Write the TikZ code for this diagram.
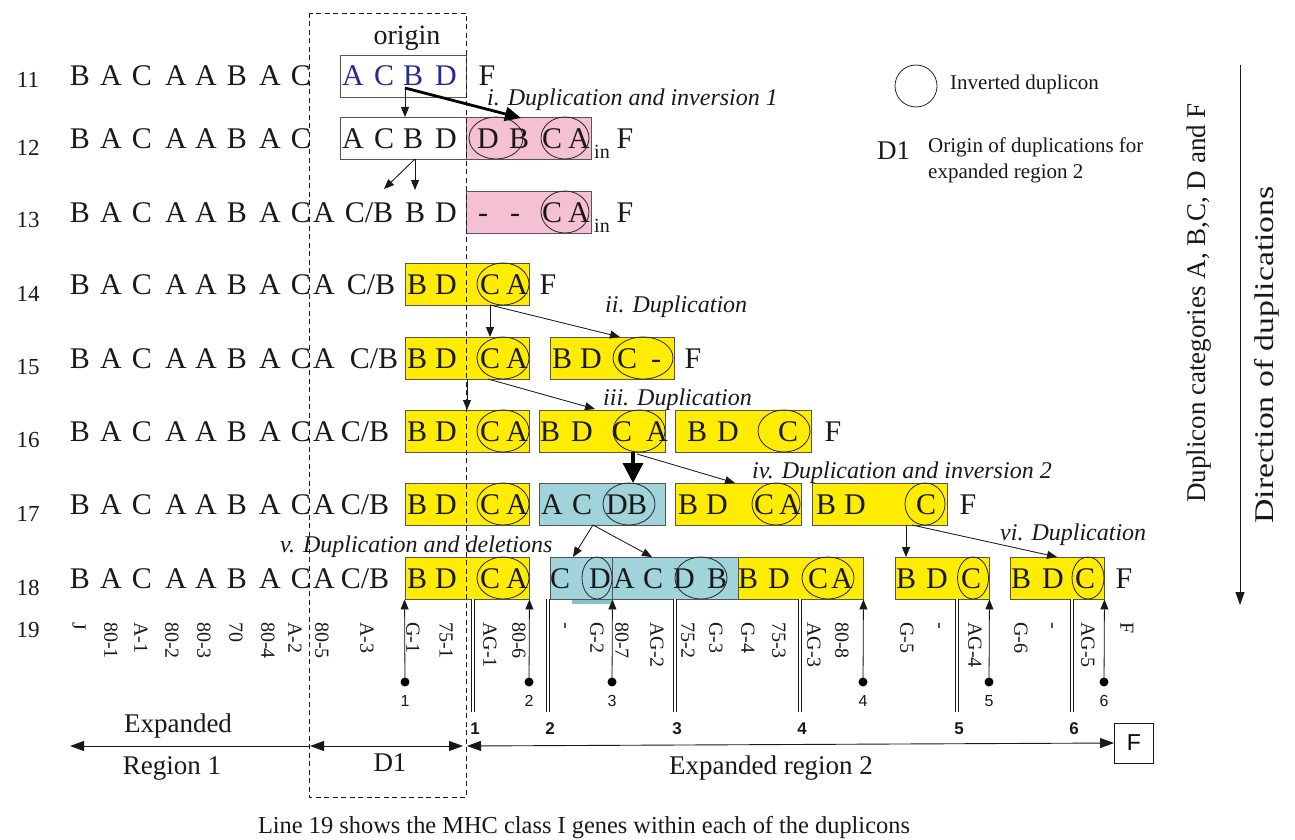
\documentclass[tikz,border=0pt]{standalone}
\usepackage{fontspec}
\usepackage{graphicx}
\setmainfont{Liberation Serif}
\setsansfont{Liberation Sans}
\usetikzlibrary{arrows.meta,shapes.geometric}
\definecolor{pinkf}{RGB}{246,192,212}
\definecolor{yel}{RGB}{255,236,0}
\definecolor{cyn}{RGB}{160,212,218}
\definecolor{cyndk}{RGB}{135,195,202}
\definecolor{bord}{RGB}{85,85,85}
\definecolor{blu}{RGB}{40,40,150}
\definecolor{txt}{RGB}{25,25,25}
\tikzset{
  let/.style={inner sep=0pt,anchor=base,font=\fontsize{30}{32}\selectfont,text=txt},
  box/.style={rectangle,draw=bord,line width=0.9pt,minimum height=42pt,inner sep=0pt},
  ell/.style={ellipse,draw=black!85,line width=0.8pt,minimum height=42pt,inner sep=0pt},
  arr/.style={-{Triangle[length=10pt,width=8pt]},line width=0.8pt,draw=txt,fill=txt},
  bigarr/.style={-{Triangle[length=16pt,width=14pt]},line width=2.8pt,draw=black},
  hugearr/.style={-{Triangle[length=20pt,width=20pt]},line width=3.5pt,draw=black},
  rownum/.style={inner sep=0pt,font=\fontsize{23}{25}\selectfont,text=txt},
  oplab/.style={inner sep=0pt,anchor=west,font=\fontsize{24}{26}\selectfont\itshape,text=txt},
  gene/.style={inner sep=0pt,anchor=west,rotate=-90,font=\fontsize{20}{22}\selectfont,text=txt},
  dbl/.style={double=white,double distance=2.2pt,line width=0.7pt,draw=txt},
  dotn/.style={circle,fill=black,inner sep=0pt,minimum size=9pt},
  small/.style={inner sep=0pt,font=\sffamily\fontsize{16}{18}\selectfont,text=txt},
  smallb/.style={inner sep=0pt,font=\sffamily\bfseries\fontsize{17}{19}\selectfont,text=txt},
  regarr/.style={{Triangle[length=14pt,width=10pt]}-{Triangle[length=14pt,width=10pt]},line width=0.9pt,draw=txt},
  lab/.style={inner sep=0pt,font=\fontsize{27}{29}\selectfont,text=txt},
  leg/.style={inner sep=0pt,anchor=west,font=\fontsize{21}{23}\selectfont,text=txt},
  dashbox/.style={draw=txt,line width=0.9pt,dash pattern=on 5pt off 3.5pt},
}
\newcommand\bx[5]{%
  \pgfmathsetmacro\bw{#3-#2}%
  \pgfmathsetmacro\bc{(#2+#3)/2}%
  \node[box,fill=#5,minimum width=\bw pt] (#1) at (\bc,#4) {};}
\newcommand\el[4]{\node[ell,minimum width=#4pt] (#1) at (#2,#3) {};}
\newcommand\lrow[4][]{\foreach \xx/\ll [count=\i] in {#4}{\node[let,#1] (#2-\i) at (\xx,#3) {\ll};}}
\newcommand\prefixrow[2]{\foreach \xx/\ll [count=\i] in {80/B,111/A,142/C,176/A,206/A,237/B,270/A,301/C}{\node[let] (#1p\i) at (\xx,#2) {\ll};}}
\begin{document}
\begin{tikzpicture}[x=1pt,y=-1pt]
\useasboundingbox (0,0) rectangle (1295,840);
\fill[white] (0,0) rectangle (1295,840);

% ---------- boxes ----------
\bx{b11}{340}{466}{76}{white}
\bx{b12w}{340}{466}{138}{white}
\bx{b12p}{466}{591}{138}{pinkf}
\bx{b13p}{466}{591}{212}{pinkf}
\bx{b14a}{405}{529}{284}{yel}
\bx{b15a}{405}{529}{358}{yel}
\bx{b15b}{550}{674}{358}{yel}
\bx{b16a}{405}{529}{431}{yel}
\bx{b16b}{539}{665}{431}{yel}
\bx{b16c}{675}{811}{431}{yel}
\bx{b17a}{405}{529}{504}{yel}
\bx{b17b}{539}{665}{504}{cyn}
\bx{b17c}{675}{801}{504}{yel}
\bx{b17d}{812}{947}{504}{yel}
\fill[cyndk] (572,598) rectangle (612,604);
\bx{b18a}{405}{529}{578}{yel}
\bx{b18b}{550}{612}{578}{cyn}
\bx{b18c}{612}{738}{578}{cyn}
\bx{b18d}{738}{863}{578}{yel}
\bx{b18e}{895}{989}{578}{yel}
\bx{b18f}{1010}{1104}{578}{yel}

% ---------- ellipses ----------
\el{e12a}{496}{138}{54}
\el{e12b}{565}{138}{48}
\el{e13}{565}{212}{48}
\el{e14}{503}{284}{52}
\el{e15a}{503}{358}{52}
\el{e15b}{643}{358}{60}
\el{e16a}{503}{431}{52}
\el{e16b}{639}{431}{52}
\el{e16c}{784}{431}{52}
\el{e17a}{503}{504}{52}
\el{e17b}{629}{504}{52}
\el{e17c}{776}{504}{48}
\el{e17d}{925}{504}{40}
\el{e18a}{503}{578}{52}
\el{e18b}{597}{578}{30}
\el{e18c}{701}{578}{52}
\el{e18d}{828}{578}{52}
\el{e18e}{973}{578}{31}
\el{e18f}{1088}{578}{32}

% ---------- row numbers ----------
\foreach \n/\yy in {11/80,12/148,13/220,14/294,15/367,16/440,17/514,18/588,19/630}
  {\node[rownum] (rn\n) at (28,\yy) {\n};}

% ---------- row 11 ----------
\prefixrow{r11}{86}
\lrow[text=blu]{r11b}{86}{353/A,384/C,413/B,446/D}
\node[let] (r11f) at (487,86) {F};
\node[let,font=\fontsize{28}{30}\selectfont] (orig) at (407,45) {origin};

% ---------- row 12 ----------
\prefixrow{r12}{148}
\lrow{r12b}{148}{353/A,384/C,413/B,446/D,488/D,519/B,552/C,579/A}
\node[inner sep=0pt,anchor=base,font=\fontsize{20}{22}\selectfont,text=txt] (r12in) at (602,158) {in};
\node[let] (r12f) at (625,148) {F};

% ---------- row 13 ----------
\prefixrow{r13}{222}
\lrow{r13b}{222}{324/A,415/B,446/D,483/-,515/-,552/C,579/A}
\node[let] (r13cb) at (369,222) {C/B};
\node[inner sep=0pt,anchor=base,font=\fontsize{20}{22}\selectfont,text=txt] (r13in) at (602,232) {in};
\node[let] (r13f) at (625,222) {F};

% ---------- row 14 ----------
\prefixrow{r14}{294}
\lrow{r14b}{294}{324/A,417/B,446/D,490/C,517/A,548/F}
\node[let] (r14cb) at (371,294) {C/B};

% ---------- row 15 ----------
\prefixrow{r15}{368}
\lrow{r15b}{368}{324/A,417/B,446/D,490/C,517/A,562/B,591/D,627/C,656/-,693/F}
\node[let] (r15cb) at (374,368) {C/B};

% ---------- row 16 ----------
\prefixrow{r16}{441}
\lrow{r16b}{441}{324/A,417/B,446/D,490/C,517/A,550/B,582/D,622/C,657/A,697/B,728/D,788/C,833/F}
\node[let] (r16cb) at (365,441) {C/B};

% ---------- row 17 ----------
\prefixrow{r17}{514}
\lrow{r17b}{514}{324/A,417/B,446/D,490/C,517/A,552/A,582/C,617/D,637/B,688/B,717/D,764/C,790/A,826/B,855/D,926/C,968/F}
\node[let] (r17cb) at (365,514) {C/B};

% ---------- row 18 ----------
\prefixrow{r18}{588}
\lrow{r18b}{588}{324/A,417/B,446/D,490/C,517/A,560/C,600/D,624/A,653/C,684/D,717/B,748/B,779/D,818/C,842/A,906/B,937/D,971/C,1021/B,1053/D,1085/C,1124/F}
\node[let] (r18cb) at (365,588) {C/B};

% ---------- row 19 gene labels ----------
\foreach \xx/\gg [count=\i] in {79/J,111/80-1,141/A-1,172/80-2,204/80-3,236/70,268/80-4,295/A-2,322/80-5,367/A-3,413/G-1,446/75-1,490/AG-1,519/80-6,563/-,597/G-2,622/80-7,657/AG-2,688/75-2,716/G-3,748/G-4,779/75-3,814/AG-3,842/80-8,907/G-5,937/-,975/AG-4,1021/G-6,1050/-,1088/AG-5,1127/F}
  {\node[gene] (g\i) at (\xx,622) {\gg};}

% ---------- dashed D1 box ----------
\draw[dashbox] (309,13) rectangle (466,797);

% ---------- duplication arrows ----------
\coordinate (s11) at (405,88);
\coordinate (t12a) at (405,117);
\coordinate (t12b) at (521,118);
\draw[arr] (s11) -- (t12a);
\draw[bigarr] (s11) -- (t12b);
\coordinate (s12) at (415,159);
\coordinate (t13a) at (415,190);
\coordinate (t13b) at (384,189);
\draw[arr] (s12) -- (t13a);
\draw[arr] (s12) -- (t13b);
\coordinate (s14) at (490,305);
\coordinate (t15a) at (490,337);
\coordinate (t15b) at (620,337);
\draw[arr] (s14) -- (t15a);
\draw[arr] (s14) -- (t15b);
\coordinate (s15a) at (467,379);
\coordinate (t16a) at (467,410);
\coordinate (s15b) at (488,379);
\coordinate (t16b) at (595,409);
\draw[arr] (s15a) -- (t16a);
\draw[arr] (s15b) -- (t16b);
\coordinate (s16) at (633,452);
\coordinate (t17a) at (633,483);
\coordinate (s16b) at (637,454);
\coordinate (t17b) at (735,483);
\draw[hugearr] (s16) -- (t17a);
\draw[arr] (s16b) -- (t17b);
\coordinate (s17) at (593,525);
\coordinate (t18a) at (573,557);
\coordinate (t18b) at (652,557);
\draw[arr] (s17) -- (t18a);
\draw[arr] (s17) -- (t18b);
\coordinate (s17d) at (906,525);
\coordinate (t18c) at (906,557);
\coordinate (s17e) at (912,525);
\coordinate (t18d) at (1057,557);
\draw[arr] (s17d) -- (t18c);
\draw[arr] (s17e) -- (t18d);

% ---------- operation labels ----------
\node[oplab] (op1) at (487,100) {i. Duplication and inversion 1};
\node[oplab] (op2) at (605,307) {ii. Duplication};
\node[oplab] (op3) at (603,400) {iii. Duplication};
\node[oplab] (op4) at (752,473) {iv. Duplication and inversion 2};
\node[oplab] (op5) at (280,547) {v. Duplication and deletions};
\node[oplab] (op6) at (1000,535) {vi. Duplication};

% ---------- gene markers (dots + arrows) ----------
\node[dotn] (d1) at (405,682) {};
\node[dotn] (d2) at (529,682) {};
\node[dotn] (d3) at (612,682) {};
\node[dotn] (d4) at (863,682) {};
\node[dotn] (d5) at (989,682) {};
\node[dotn] (d6) at (1104,682) {};
\draw[arr] (d1.center) -- (b18a.south west);
\draw[arr] (d2.center) -- (b18a.south east);
\draw[arr] (d3.center) -- (b18b.south east);
\draw[arr] (d4.center) -- (b18d.south east);
\draw[arr] (d5.center) -- (b18e.south east);
\draw[arr] (d6.center) -- (b18f.south east);
\foreach \k/\xx in {1/405,2/529,3/612,4/863,5/989,6/1104}
  {\node[small] (dn\k) at (\xx,701) {\k};}

% ---------- duplicon boundaries (double lines) ----------
\foreach \k/\xx in {1/473,2/548,3/675,4/800,5/957,6/1072}{
  \coordinate (bt\k) at (\xx,599);
  \coordinate (bb\k) at (\xx,712);
  \draw[dbl] (bt\k) -- (bb\k);
  \node[smallb] (bn\k) at (\xx+2,729) {\k};}

% ---------- region arrows ----------
\node[rectangle,draw=txt,line width=0.9pt,minimum width=39pt,minimum height=40pt,inner sep=0pt,font=\sffamily\fontsize{23}{25}\selectfont] (fbox) at (1134,743) {F};
\coordinate (rl) at (70,746);
\coordinate (d1l) at (310,746);
\coordinate (d1r) at (463,746);
\coordinate (r2l) at (467,746);
\draw[-{Triangle[length=14pt,width=10pt]},line width=0.9pt,draw=txt] (d1l) -- (rl);
\draw[regarr] (d1l) -- (d1r);
\draw[regarr] (r2l) -- (fbox.west);
\node[lab] (ex1) at (178,726) {Expanded};
\node[lab] (ex2) at (172,768) {Region 1};
\node[lab] (d1t) at (390,763) {D1};
\node[lab] (ex3) at (771,768) {Expanded region 2};
\node[inner sep=0pt,font=\fontsize{24.4}{26}\selectfont,text=txt] (cap) at (584,828) {Line 19 shows the MHC class I genes within each of the duplicons};

% ---------- legend ----------
\node[circle,draw=black!85,line width=0.8pt,minimum size=42pt,inner sep=0pt] (legc) at (916,86) {};
\node[leg] (legt) at (950,84) {Inverted duplicon};
\node[inner sep=0pt,anchor=west,font=\fontsize{27}{29}\selectfont,text=txt] (legd) at (877,151) {D1};
\node[leg] (lego1) at (928,147) {Origin of duplications for};
\node[leg] (lego2) at (928,173) {expanded region 2};

% ---------- right side ----------
\coordinate (vt) at (1240,65);
\coordinate (vb) at (1240,605);
\draw[-{Triangle[length=13pt,width=9pt]},line width=0.9pt,draw=txt] (vt) -- (vb);
\node[inner sep=0pt,rotate=90,font=\fontsize{27}{29}\selectfont,text=txt] (vcat) at (1199,303) {Duplicon categories A, B,C, D and F};
\node[inner sep=0pt,rotate=90,font=\fontsize{27}{29}\selectfont,text=txt] (vdir) at (1267,355) {\scalebox{1.25}[1]{Direction of duplications}};
\end{tikzpicture}
\end{document}
